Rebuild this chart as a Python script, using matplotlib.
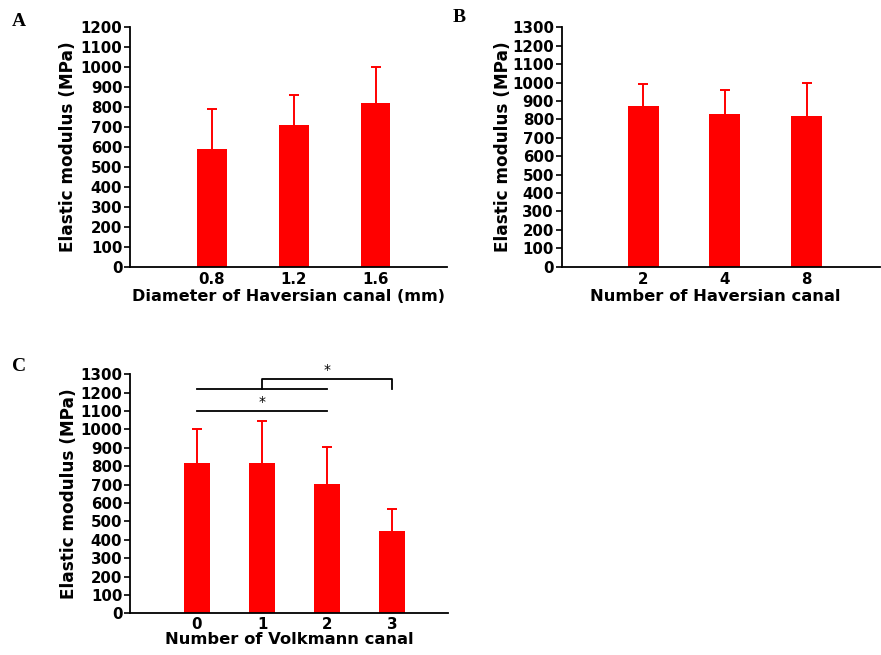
"""Elastic modulus vs canal geometry: three bar panels (A, B, C)."""
import matplotlib
matplotlib.use('Agg')
import matplotlib.pyplot as plt
from matplotlib.font_manager import FontProperties
import numpy as np

# Panel A: diameter of Haversian canal
diam_labels = ["0.8", "1.2", "1.6"]
diam_mean   = [590, 710, 820]
diam_sd     = [200, 150, 180]

# Panel B: number of Haversian canals
hav_labels = ["2", "4", "8"]
hav_mean   = [875, 830, 820]
hav_sd     = [115, 130, 180]

# Panel C: number of Volkmann canals
volk_labels = ["0", "1", "2", "3"]
volk_mean   = [820, 820, 705, 445]
volk_sd     = [185, 225, 200, 120]

W, H = 881, 655
RED = "#ff0000"
TICKFONT = dict(family="DejaVu Sans", weight="bold", size=10.8)
LABFONT = dict(family="DejaVu Sans", weight="bold", size=12.2)

fig = plt.figure(figsize=(W / 100, H / 100), dpi=100)
fig.patch.set_facecolor("white")


def px_axes(l, r, t, b):
    return fig.add_axes([l / W, 1 - b / H, (r - l) / W, (b - t) / H])


def bar_panel(ax, x, labels, mean, sd, width, ymax, xlim, xlabel,
              ylab_x, xlab_pos, xlab_size, xpad):
    # error bars go under the bars so only the upper arm shows
    ax.errorbar(x, mean, yerr=sd, fmt="none", ecolor=RED, elinewidth=1.4,
                capsize=3.5, capthick=1.4, zorder=2)
    ax.bar(x, mean, width=width, color=RED, edgecolor=RED, linewidth=0,
           zorder=3)
    ax.set_xlim(*xlim)
    ax.set_ylim(0, ymax)
    ax.set_yticks(np.arange(0, ymax + 1, 100))
    ax.set_xticks(x)
    ax.set_xticklabels(labels)
    for s in ["top", "right"]:
        ax.spines[s].set_visible(False)
    for s in ["left", "bottom"]:
        ax.spines[s].set_linewidth(1.3)
        ax.spines[s].set_zorder(4)
    ax.tick_params(axis="y", direction="out", length=4, width=1.2, pad=1.5)
    ax.tick_params(axis="x", length=0, pad=xpad)
    for lab in ax.get_xticklabels() + ax.get_yticklabels():
        lab.set_fontproperties(FontProperties(**TICKFONT))
    ax.set_ylabel("Elastic modulus (MPa)", **LABFONT)
    ax.yaxis.set_label_coords(ylab_x, 0.5)
    ax.set_xlabel(xlabel, family="DejaVu Sans", weight="bold", size=xlab_size)
    ax.xaxis.set_label_coords(*xlab_pos)


axA = px_axes(130, 447, 27.3, 266.7)
bar_panel(axA, np.arange(1, 4), diam_labels, diam_mean, diam_sd, 0.36, 1200,
          (0, 3.87), "Diameter of Haversian canal (mm)", -0.167, (0.5, -0.094),
          11.6, 4)

axB = px_axes(561.7, 880, 27.3, 266.7)
bar_panel(axB, np.arange(1, 4), hav_labels, hav_mean, hav_sd, 0.38, 1300,
          (0, 3.9), "Number of Haversian canal", -0.156, (0.482, -0.094),
          11.8, 4)

axC = px_axes(130, 448, 374.3, 613.3)
bar_panel(axC, np.arange(0, 4), volk_labels, volk_mean, volk_sd, 0.41, 1300,
          (-1.03, 3.86), "Number of Volkmann canal", -0.164, (0.5, -0.078),
          11.8, 2.5)

# significance brackets in panel C
axC.plot([0, 2], [1100, 1100], color="black", lw=1.3, clip_on=False)
axC.text(1, 1112, "*", ha="center", va="bottom", fontsize=10, family="DejaVu Sans")
axC.plot([0, 2], [1220, 1220], color="black", lw=1.3, clip_on=False)
axC.plot([1, 1, 3, 3], [1220, 1273, 1273, 1220], color="black", lw=1.3,
         clip_on=False)
axC.text(2, 1283, "*", ha="center", va="bottom", fontsize=10, family="DejaVu Sans")

# panel letters
for lx, ly, letter in [(19, 21.5, "A"), (459.5, 17.5, "B"), (19.5, 366.5, "C")]:
    fig.text(lx / W, 1 - ly / H, letter, ha="center", va="center",
             family="Liberation Serif", weight="bold", fontsize=14)

fig.savefig("out.png", dpi=100, facecolor="white")
